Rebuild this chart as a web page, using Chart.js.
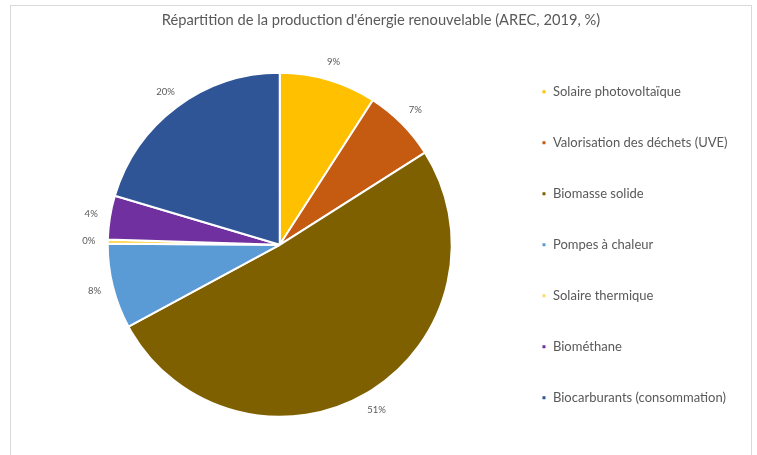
<!DOCTYPE html>
<html>
<head>
<meta charset="utf-8">
<script src="https://cdn.jsdelivr.net/npm/chart.js@4/dist/chart.umd.min.js"></script>
<style>
  html, body { margin: 0; padding: 0; background: #ffffff; overflow: hidden; }
  #frame { position: absolute; left: 10px; top: 5px; width: 742px; height: 470px; border: 1px solid #d9d9d9; box-sizing: border-box; }
  #wrap { position: absolute; left: 0; top: 0; width: 757px; height: 455px; }
</style>
</head>
<body>
<div id="frame"></div>
<div id="wrap"><canvas id="c" width="757" height="455"></canvas></div>
<script>
const titleText = "Répartition de la production d'énergie renouvelable (AREC, 2019, %)";
const categories = [
  "Solaire photovoltaïque",
  "Valorisation des déchets (UVE)",
  "Biomasse solide",
  "Pompes à chaleur",
  "Solaire thermique",
  "Biométhane",
  "Biocarburants (consommation)"
];
const shares = [9.1, 6.9, 51.1, 8.0, 0.4, 4.1, 20.4];
const sliceColors = ["#FFC000", "#C55A11", "#7F6000", "#5B9BD5", "#FFD966", "#7030A0", "#2F5597"];

const FONT = "Lato, 'Open Sans', sans-serif";
const TEXT = "#595959";

const pctLabels = {
  id: 'pctLabels',
  afterDatasetsDraw(chart) {
    const ctx = chart.ctx;
    const meta = chart.getDatasetMeta(0);
    const data = chart.data.datasets[0].data;
    const total = data.reduce((a, b) => a + b, 0);
    ctx.save();
    ctx.font = "9.5px " + FONT;
    ctx.fillStyle = TEXT;
    ctx.textAlign = 'center';
    ctx.textBaseline = 'middle';
    meta.data.forEach((arc, i) => {
      const p = arc.getProps(['x', 'y', 'startAngle', 'endAngle', 'outerRadius'], true);
      const mid = (p.startAngle + p.endAngle) / 2;
      const r = p.outerRadius + 19;
      const label = Math.round(data[i] / total * 100) + '%';
      ctx.fillText(label, p.x + Math.cos(mid) * r, p.y + Math.sin(mid) * r);
    });
    ctx.restore();
  }
};

// centre the title over the whole frame rather than over the padded area
const titleSpan = {
  id: 'titleSpan',
  afterLayout(chart) {
    const t = chart.titleBlock;
    if (t) { t.left = 0; t.right = 762; t.width = 762; }
  }
};

new Chart(document.getElementById('c'), {
  type: 'pie',
  data: {
    labels: categories,
    datasets: [{
      data: shares,
      backgroundColor: sliceColors,
      borderColor: '#ffffff',
      borderWidth: 2,
      radius: 172
    }]
  },
  options: {
    responsive: false,
    animation: false,
    layout: { padding: { left: 56, right: 19.5, top: 0, bottom: 0 } },
    plugins: {
      title: {
        display: true,
        text: titleText,
        color: TEXT,
        font: { family: FONT, size: 14.7, weight: 'normal' },
        padding: { top: 11, bottom: 6 }
      },
      legend: {
        position: 'right',
        fullSize: false,
        labels: {
          boxWidth: 5,
          boxHeight: 5,
          padding: 38,
          color: TEXT,
          font: { family: FONT, size: 13 }
        }
      },
      tooltip: { enabled: false }
    }
  },
  plugins: [pctLabels, titleSpan]
});
</script>
</body>
</html>
